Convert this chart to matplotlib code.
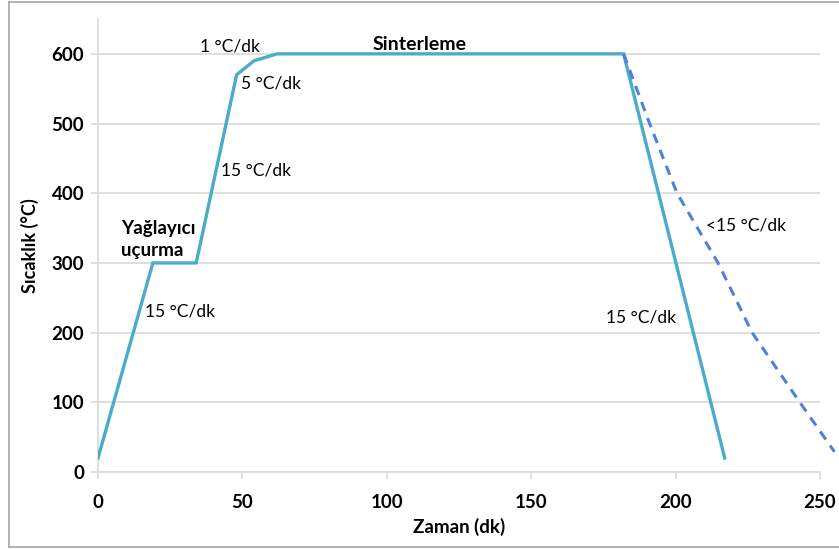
import numpy as np
import matplotlib.pyplot as plt
from matplotlib.lines import Line2D

plt.rcParams['font.family'] = ['Lato', 'DejaVu Sans']

# sintering profile (solid) - time in dk, temperature in C
zaman = [0, 19, 34, 48, 54, 62, 182, 217]
sicaklik = [20, 300, 300, 570, 590, 600, 600, 20]

# slower cooling (dashed)
zaman_yavas = [182, 191, 200.5, 214.7, 226.5, 243, 255]
sicaklik_yavas = [600, 500, 400, 300, 200, 100, 29]

x_ticks = [0, 50, 100, 150, 200, 250]
y_ticks = [0, 100, 200, 300, 400, 500, 600]

grid_col = '#d9d9d9'

fig = plt.figure(figsize=(8.39, 5.49), dpi=100)
ax = fig.add_axes([98/839, 77/549, (820-98)/839, (472-19)/549])

ax.plot(zaman, sicaklik, color='#4bacc6', lw=2.4, solid_joinstyle='miter', zorder=3)
ax.plot(zaman_yavas, sicaklik_yavas, color='#4f81d9', lw=2.2, ls=(0, (3.2, 2.4)),
        clip_on=False, zorder=3)

ax.set_xlim(0, 250)
ax.set_ylim(0, 650)
ax.set_xticks(x_ticks)
ax.set_yticks(y_ticks)
ax.yaxis.grid(True, color=grid_col, lw=1.2)
ax.set_axisbelow(True)
for s in ['top', 'right']:
    ax.spines[s].set_visible(False)
for s in ['left', 'bottom']:
    ax.spines[s].set_color(grid_col)
    ax.spines[s].set_linewidth(1.2)
ax.tick_params(axis='both', direction='out', length=5, width=1.2, color=grid_col,
               labelsize=13.5, labelcolor='black')
ax.tick_params(axis='x', pad=11)
ax.tick_params(axis='y', pad=5)
for lab in ax.get_xticklabels() + ax.get_yticklabels():
    lab.set_fontweight('bold')

ax.set_xlabel('Zaman (dk)', fontsize=13.5, fontweight='bold', labelpad=5)
ax.set_ylabel('Sıcaklık (°C)', fontsize=13, fontweight='bold', labelpad=9)

fs = 12.5
ax.text(35.3, 610, '1 °C/dk', fontsize=fs, va='center', ha='left')
ax.text(111.5, 613, 'Sinterleme', fontsize=14, fontweight='bold', va='center', ha='center')
ax.text(49.5, 557, '5 °C/dk', fontsize=fs, va='center', ha='left')
ax.text(42.6, 432, '15 °C/dk', fontsize=fs, va='center', ha='left')
ax.text(8, 333, 'Yağlayıcı\nuçurma', fontsize=13.5, fontweight='bold', va='center',
        ha='left', linespacing=1.35)
ax.text(16.3, 230, '15 °C/dk', fontsize=fs, va='center', ha='left')
ax.text(210.5, 354, '<15 °C/dk', fontsize=fs, va='center', ha='left')
ax.text(176, 221, '15 °C/dk', fontsize=fs, va='center', ha='left')

# gray frame around the picture
W, H = 839, 549
for xs, ys in [([9, 9], [2, 547]), ([9, W], [2, 2]), ([9, W], [547, 547])]:
    fig.add_artist(Line2D([x / W for x in xs], [1 - y / H for y in ys],
                          color='#a6a6a6', lw=1.2, transform=fig.transFigure))

fig.savefig('out.png', dpi=100)
